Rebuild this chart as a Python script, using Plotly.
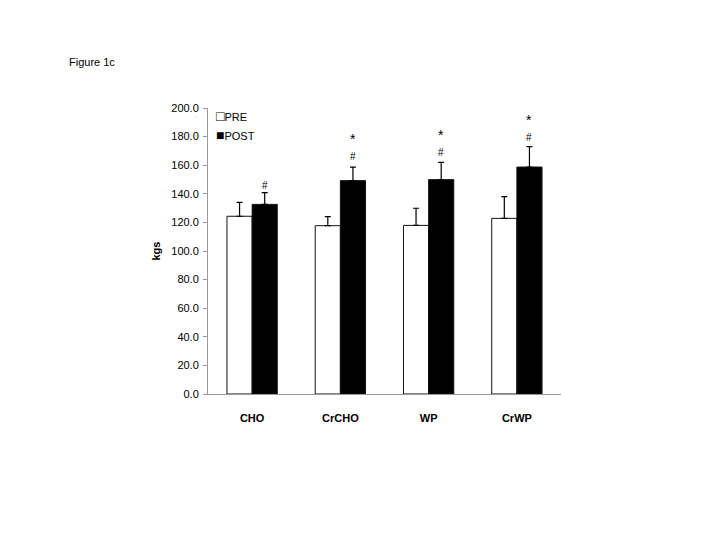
import plotly.graph_objects as go

categories = ["CHO", "CrCHO", "WP", "CrWP"]
pre_values = [124.3, 117.7, 117.9, 122.8]
pre_errors = [9.7, 6.3, 12.0, 15.2]
post_values = [132.6, 149.2, 149.9, 158.7]
post_errors = [8.2, 9.5, 12.1, 14.3]
hash_marks = ["#", "#", "#", "#"]
hash_y = [145.5, 166.0, 168.7, 179.5]
star_marks = ["", "*", "*", "*"]
star_y = [None, 178.0, 180.9, 191.6]
y_ticks = [0, 20, 40, 60, 80, 100, 120, 140, 160, 180, 200]
legend_glyphs = ["\u25a1", "\u25a0"]
legend_labels = ["PRE", "POST"]

fig = go.Figure()
fig.add_trace(go.Bar(
    name="PRE", x=categories, y=pre_values, showlegend=False,
    marker=dict(color="white", line=dict(color="#111111", width=1)),
    error_y=dict(type="data", array=pre_errors, arrayminus=[0]*4, symmetric=False,
                 color="black", thickness=1.2, width=3),
))
fig.add_trace(go.Bar(
    name="POST", x=categories, y=post_values, showlegend=False,
    marker=dict(color="black", line=dict(color="#111111", width=1)),
    error_y=dict(type="data", array=post_errors, arrayminus=[0]*4, symmetric=False,
                 color="black", thickness=1.2, width=3),
))
for g, lab in zip(legend_glyphs, legend_labels):
    fig.add_trace(go.Scatter(x=[None], y=[None], mode="markers",
                             name=f"<span style='font-size:14px'>{g}</span>{lab}",
                             marker=dict(opacity=0, size=1), showlegend=True,
                             hoverinfo="skip"))

for i, c in enumerate(categories):
    fig.add_annotation(x=c, y=hash_y[i], text=hash_marks[i], showarrow=False,
                       xshift=12.5, font=dict(family="Arial", size=10, color="#000000"))
    if star_marks[i]:
        fig.add_annotation(x=c, y=star_y[i], text=star_marks[i], showarrow=False,
                           xshift=12.5, font=dict(family="Arial", size=14, color="#000000"))

fig.add_annotation(xref="paper", yref="paper", x=(67-208)/353, y=(394-62)/286,
                   text="Figure 1c", showarrow=False, xanchor="left", yanchor="middle",
                   font=dict(family="Arial", size=11, color="black"))

fig.update_layout(
    width=718, height=537,
    margin=dict(l=208, r=157, t=108, b=143),
    paper_bgcolor="white", plot_bgcolor="white",
    barmode="group", bargap=0.43, bargroupgap=0,
    font=dict(family="Arial", size=11, color="black"),
    showlegend=True,
    legend=dict(x=-0.0907, y=1.02, xanchor="left", yanchor="top",
                bgcolor="rgba(0,0,0,0)", font=dict(family="Arial", size=11, color="black"),
                itemwidth=30, tracegroupgap=0),
    xaxis=dict(showline=True, linecolor="#999999", linewidth=1, ticks="",
               ticklabelstandoff=14,
               tickfont=dict(family="Arial", size=11, color="black", weight="bold"),
               showgrid=False),
    yaxis=dict(range=[0, 200], tickvals=y_ticks, tickformat=".1f",
               showline=True, linecolor="#999999", linewidth=1,
               ticks="outside", ticklen=4, tickcolor="#999999",
               ticklabelstandoff=2,
               showgrid=False, zeroline=False,
               tickfont=dict(family="Arial", size=11, color="black"),
               title=dict(text="kgs", font=dict(family="Arial", size=11, color="black", weight="bold"),
                          standoff=8)),
)

fig.write_html("out.html")
